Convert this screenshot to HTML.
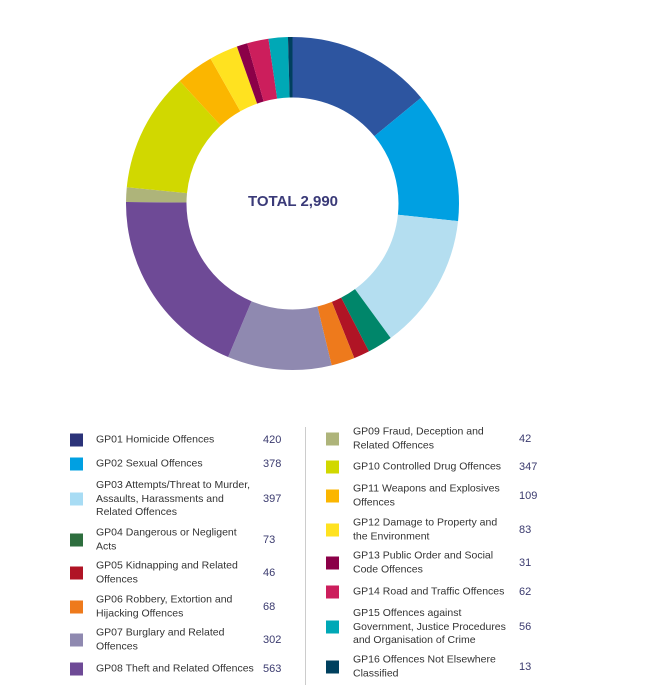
<!DOCTYPE html>
<html><head><meta charset="utf-8"><style>
body{margin:0;width:650px;height:689px;background:#fff;font-family:"Liberation Sans",sans-serif;position:relative;overflow:hidden}
.r{position:absolute;display:flex;align-items:center;transform:translateY(-50%)}
.sq{position:absolute;width:13px;height:13px;transform:translateY(-50%)}
.t{position:absolute;font-size:10.5px;line-height:13.5px;color:#333;transform:translateY(-50%)}
.n{position:absolute;font-size:11px;color:#3a3a6e;transform:translateY(-50%)}
</style></head><body>
<svg id="d" width="650" height="400" style="position:absolute;left:0;top:0"></svg>
<div style="position:absolute;left:193px;top:193px;width:200px;text-align:center;font-weight:bold;font-size:15px;color:#3a3a78">TOTAL 2,990</div>
<div style="position:absolute;left:305px;top:427px;width:1px;height:258px;background:#ccc"></div>
<div id="lg"></div>
<script>
var data=[[420,"#2d55a0"],[378,"#00a0e2"],[397,"#b4def0"],[73,"#00866a"],[46,"#b01425"],[68,"#ee7a1c"],[302,"#8f89b0"],[563,"#6e4a96"],[42,"#aeb47a"],[347,"#d1d800"],[109,"#fbb600"],[83,"#ffe220"],[31,"#8b0048"],[62,"#cc1e5c"],[56,"#00a8b6"],[13,"#00405e"]];
var cx=292.5,cy=203.5,R=166.5,ri=106,tot=2990,a=0,s="";
function p(r,t){return (cx+r*Math.sin(t)).toFixed(2)+","+(cy-r*Math.cos(t)).toFixed(2)}
data.forEach(function(d){var b=a+d[0]/tot*2*Math.PI,l=(b-a)>Math.PI?1:0;
s+='<path fill="'+d[1]+'" d="M'+p(R,a)+'A'+R+','+R+' 0 '+l+' 1 '+p(R,b)+'L'+p(ri,b)+'A'+ri+','+ri+' 0 '+l+' 0 '+p(ri,a)+'Z"/>';a=b;});
document.getElementById('d').innerHTML=s;
var L=[["GP01 Homicide Offences",420,"#2b3379",440,0],["GP02 Sexual Offences",378,"#00a0e2",464,0],["GP03 Attempts/Threat to Murder,<br>Assaults, Harassments and<br>Related Offences",397,"#a8dcf4",499,0],["GP04 Dangerous or Negligent<br>Acts",73,"#2e6e3e",540,0],["GP05 Kidnapping and Related<br>Offences",46,"#b01425",573,0],["GP06 Robbery, Extortion and<br>Hijacking Offences",68,"#ee7a1c",607,0],["GP07 Burglary and Related<br>Offences",302,"#8f89b0",640,0],["GP08 Theft and Related Offences",563,"#6e4a96",669,0],
["GP09 Fraud, Deception and<br>Related Offences",42,"#aeb47a",439,1],["GP10 Controlled Drug Offences",347,"#d1d800",467,1],["GP11 Weapons and Explosives<br>Offences",109,"#fbb600",496,1],["GP12 Damage to Property and<br>the Environment",83,"#ffe220",530,1],["GP13 Public Order and Social<br>Code Offences",31,"#8b0048",563,1],["GP14 Road and Traffic Offences",62,"#cc1e5c",592,1],["GP15 Offences against<br>Government, Justice Procedures<br>and Organisation of Crime",56,"#00a8b6",627,1],["GP16 Offences Not Elsewhere<br>Classified",13,"#00405e",667,1]];
var h="";L.forEach(function(e){var sx=e[4]?326:70,tx=e[4]?353:96,nx=e[4]?519:263;
h+='<div class="sq" style="left:'+sx+'px;top:'+e[3]+'px;background:'+e[2]+'"></div><div class="t" style="left:'+tx+'px;top:'+e[3]+'px">'+e[0]+'</div><div class="n" style="left:'+nx+'px;top:'+e[3]+'px">'+e[1]+'</div>';});
document.getElementById('lg').innerHTML=h;
</script>
</body></html>
